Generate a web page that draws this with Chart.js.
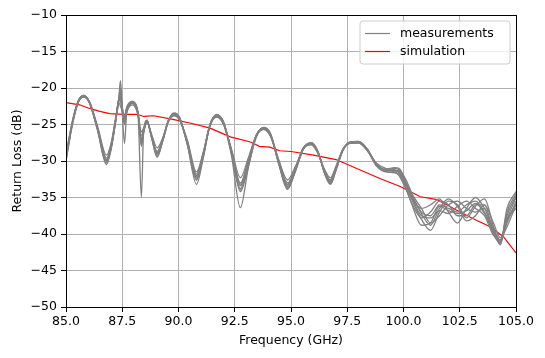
<!DOCTYPE html>
<html>
<head>
<meta charset="utf-8">
<script src="https://cdn.jsdelivr.net/npm/chart.js@4/dist/chart.umd.min.js"></script>
<style>
html,body{margin:0;padding:0;background:#fff;}
#wrap{width:545px;height:358px;position:relative;}
</style>
</head>
<body>
<div id="wrap"><canvas id="c" width="545" height="358"></canvas></div>
<script>
// ---- data ----
const freqGHz = [85.0,85.3,85.55,85.8,86.05,86.4,86.8,87.0,87.2,87.35,87.42,87.5,87.6,87.7,87.95,88.2,88.35,88.45,88.6,88.8,89.05,89.3,89.55,89.8,90.05,90.4,90.8,91.1,91.4,91.7,92.0,92.35,92.75,93.1,93.45,93.8,94.1,94.45,94.85,95.2,95.55,95.9,96.2,96.5,96.75,97.0,97.3,97.6,98.0,98.4,98.8,99.2,99.6,99.8,100.1,100.4,100.8,101.2,101.6,102.0,102.4,102.8,103.2,103.6,104.0,104.3,104.6,105.0];

const meas1 = [-29.5,-24.5,-21.8,-21.1,-22.0,-25.5,-29.8,-28.0,-24.5,-21.5,-21.0,-23.0,-24.5,-23.0,-22.0,-23.5,-26.0,-25.5,-24.5,-26.5,-28.7,-27.0,-24.5,-23.6,-24.2,-27.5,-32.0,-29.0,-25.0,-23.8,-24.8,-28.5,-33.0,-30.0,-26.5,-25.5,-26.5,-30.0,-33.2,-31.0,-28.2,-27.6,-28.8,-31.5,-32.8,-31.0,-28.5,-27.5,-27.4,-28.5,-30.5,-31.3,-31.3,-31.5,-33.0,-35.0,-37.0,-37.5,-36.0,-36.5,-37.0,-36.0,-35.5,-37.0,-39.5,-41.0,-38.0,-35.0];
const meas2 = [-30.0,-24.8,-21.9,-21.2,-22.1,-25.8,-30.5,-28.5,-24.8,-21.8,-20.5,-22.8,-23.8,-22.6,-21.8,-23.4,-27.5,-26.0,-24.6,-26.8,-29.2,-27.3,-24.6,-23.5,-24.1,-27.8,-32.6,-29.3,-25.1,-23.7,-24.6,-28.8,-33.8,-30.5,-26.6,-25.4,-26.3,-30.3,-33.8,-31.4,-28.3,-27.5,-28.7,-31.8,-33.2,-31.3,-28.6,-27.4,-27.3,-28.4,-30.6,-31.2,-31.0,-31.2,-32.5,-34.6,-36.5,-38.5,-37.5,-36.0,-35.5,-36.5,-37.0,-36.5,-40.0,-41.3,-37.0,-34.5];
const meas3 = [-29.0,-24.3,-21.7,-21.0,-21.9,-25.2,-29.2,-27.6,-24.2,-22.0,-22.5,-23.2,-24.8,-23.3,-22.3,-23.7,-26.5,-25.8,-24.8,-26.3,-28.2,-26.8,-24.6,-23.8,-24.4,-27.2,-31.5,-28.8,-25.2,-24.0,-25.0,-28.3,-32.3,-29.6,-26.5,-25.7,-26.7,-29.8,-32.6,-30.7,-28.3,-27.8,-29.0,-31.2,-32.3,-30.7,-28.4,-27.6,-27.5,-28.6,-30.3,-31.0,-31.5,-32.0,-33.8,-36.0,-37.8,-37.0,-35.5,-36.0,-37.5,-37.5,-36.0,-36.0,-38.5,-40.5,-39.0,-36.0];
const meas4 = [-29.8,-24.6,-21.8,-21.1,-22.0,-25.6,-30.0,-28.2,-24.6,-21.2,-19.0,-22.5,-24.0,-22.8,-21.9,-23.6,-35.0,-26.0,-24.4,-26.6,-29.0,-27.1,-24.5,-23.4,-24.0,-27.9,-33.2,-29.6,-25.0,-23.6,-24.9,-29.2,-36.4,-31.0,-26.8,-25.6,-26.6,-30.4,-33.9,-31.2,-28.4,-27.6,-28.9,-31.7,-33.0,-31.1,-28.6,-27.5,-27.4,-28.6,-30.7,-31.5,-31.6,-31.4,-33.2,-35.5,-38.0,-39.5,-37.0,-35.5,-36.0,-37.8,-36.2,-35.2,-39.0,-41.5,-37.5,-34.8];
const meas5 = [-29.3,-24.4,-21.7,-21.0,-22.0,-25.4,-29.6,-27.9,-24.4,-21.6,-21.5,-23.5,-27.6,-23.4,-22.1,-23.5,-27.0,-25.6,-24.6,-26.6,-28.8,-27.0,-24.4,-23.6,-24.3,-27.4,-31.8,-28.9,-25.0,-23.9,-24.9,-28.6,-33.2,-30.1,-26.6,-25.6,-26.6,-29.9,-33.0,-30.9,-28.2,-27.7,-28.9,-31.4,-32.6,-30.9,-28.5,-27.6,-27.5,-28.6,-30.4,-31.4,-31.6,-31.8,-33.5,-35.3,-36.5,-36.0,-35.2,-37.0,-38.5,-36.5,-35.0,-36.5,-39.2,-40.8,-38.5,-35.5];
const meas6 = [-29.6,-24.6,-21.9,-21.2,-22.1,-25.6,-30.2,-28.3,-24.7,-21.4,-20.0,-22.7,-24.2,-22.9,-22.0,-23.4,-28.0,-26.2,-24.5,-26.7,-29.4,-27.2,-24.5,-23.5,-24.2,-27.7,-32.3,-29.2,-25.1,-23.8,-24.7,-28.7,-34.2,-30.6,-26.5,-25.5,-26.4,-30.1,-33.5,-31.2,-28.2,-27.6,-28.8,-31.6,-32.9,-31.1,-28.5,-27.5,-27.4,-28.4,-30.5,-31.1,-30.9,-31.0,-32.8,-34.8,-37.2,-38.8,-36.5,-35.2,-36.2,-38.2,-37.5,-36.0,-39.8,-41.2,-36.5,-34.2];
const meas7 = [-29.4,-24.5,-21.8,-21.1,-22.0,-25.5,-29.9,-28.1,-24.5,-21.7,-21.8,-23.1,-25.0,-23.2,-22.1,-23.6,-27.2,-25.7,-24.7,-26.6,-28.9,-27.0,-24.6,-23.7,-24.3,-27.6,-32.2,-29.1,-25.0,-23.9,-24.9,-28.5,-33.4,-30.2,-26.6,-25.6,-26.5,-30.0,-33.3,-31.0,-28.3,-27.7,-28.8,-31.5,-32.7,-31.0,-28.5,-27.6,-27.5,-28.5,-30.4,-31.3,-31.4,-31.3,-33.0,-35.2,-37.5,-37.8,-36.8,-37.2,-36.2,-35.5,-36.5,-37.5,-40.2,-40.8,-38.0,-36.5];
const meas8 = [-29.7,-24.7,-21.9,-21.2,-22.1,-25.7,-30.3,-28.3,-24.6,-21.5,-21.2,-22.9,-24.3,-22.8,-21.9,-23.3,-27.8,-25.9,-24.4,-26.7,-29.5,-27.2,-24.5,-23.5,-24.1,-27.7,-32.5,-29.4,-25.1,-23.7,-24.7,-28.8,-34.0,-30.7,-26.6,-25.4,-26.4,-30.2,-33.6,-31.3,-28.3,-27.5,-28.7,-31.7,-33.1,-31.2,-28.6,-27.4,-27.3,-28.4,-30.6,-31.2,-31.2,-31.6,-33.6,-36.2,-38.8,-38.5,-36.2,-36.8,-37.2,-36.8,-35.8,-37.2,-39.8,-41.0,-38.3,-35.8];

const simFreqGHz = [85.0,85.6,86.05,86.5,86.95,87.55,88.15,88.45,88.9,89.75,90.65,91.4,92.3,93.2,93.6,94.05,94.5,95.0,96.0,97.0,98.05,98.95,99.85,100.75,101.5,102.35,103.1,103.85,104.45,105.0];
const simDB      = [-22.0,-22.3,-22.8,-23.2,-23.5,-23.6,-23.6,-23.9,-23.8,-24.3,-24.9,-25.5,-26.7,-27.4,-28.0,-28.1,-28.6,-28.7,-29.2,-29.8,-31.2,-32.4,-33.5,-34.9,-35.3,-36.7,-37.9,-39.0,-40.4,-42.6];

const xTicks = [85.0,87.5,90.0,92.5,95.0,97.5,100.0,102.5,105.0];
const yTicks = [-50,-45,-40,-35,-30,-25,-20,-15,-10];
const seriesLabels = ['measurements','simulation'];

// ---- chart ----
const FONT = '"DejaVu Sans", "Liberation Sans", sans-serif';
const measSets = [meas1,meas2,meas3,meas4,meas5,meas6,meas7,meas8];
const datasets = measSets.map((arr,i)=>({
  label: i===0 ? seriesLabels[0] : seriesLabels[0]+' '+(i+1),
  data: freqGHz.map((f,k)=>({x:f,y:arr[k]})),
  borderColor:'#808080', borderWidth:1.3, pointRadius:0,
  cubicInterpolationMode:'monotone', fill:false
}));
datasets.push({
  label: seriesLabels[1],
  data: simFreqGHz.map((f,k)=>({x:f,y:simDB[k]})),
  borderColor:'#ff0000', borderWidth:1.2, pointRadius:0, tension:0, fill:false
});

const frameAndLegend = {
  id:'frameAndLegend',
  afterDraw(chart){
    const ctx = chart.ctx, a = chart.chartArea;
    ctx.save();
    ctx.strokeStyle = '#000'; ctx.lineWidth = 1;
    ctx.strokeRect(Math.round(a.left)+0.5, Math.round(a.top)+0.5, Math.round(a.right-a.left), Math.round(a.bottom-a.top));
    // legend
    const bx = a.right - 156, by = a.top + 6, bw = 150, bh = 43, r = 3;
    ctx.fillStyle = 'rgba(255,255,255,0.8)';
    ctx.strokeStyle = '#cccccc';
    ctx.beginPath();
    ctx.moveTo(bx+r,by); ctx.lineTo(bx+bw-r,by); ctx.quadraticCurveTo(bx+bw,by,bx+bw,by+r);
    ctx.lineTo(bx+bw,by+bh-r); ctx.quadraticCurveTo(bx+bw,by+bh,bx+bw-r,by+bh);
    ctx.lineTo(bx+r,by+bh); ctx.quadraticCurveTo(bx,by+bh,bx,by+bh-r);
    ctx.lineTo(bx,by+r); ctx.quadraticCurveTo(bx,by,bx+r,by); ctx.closePath();
    ctx.fill(); ctx.stroke();
    const items = [{c:'#808080',t:seriesLabels[0]},{c:'#ff0000',t:seriesLabels[1]}];
    ctx.font = '12.5px '+FONT; ctx.textBaseline='middle'; ctx.fillStyle='#000';
    items.forEach((it,i)=>{
      const yy = by + 12 + i*18;
      ctx.strokeStyle = it.c; ctx.lineWidth = 1.2;
      ctx.beginPath(); ctx.moveTo(bx+5,yy+0.5); ctx.lineTo(bx+30,yy+0.5); ctx.stroke();
      ctx.fillStyle='#000'; ctx.fillText(it.t, bx+40, yy+1);
    });
    ctx.restore();
  }
};

new Chart(document.getElementById('c'), {
  type:'line',
  data:{datasets},
  options:{
    responsive:false, animation:false,
    layout:{padding:{left:10,right:29,top:15,bottom:10}},
    plugins:{legend:{display:false}, tooltip:{enabled:false}},
    scales:{
      x:{
        type:'linear', min:85, max:105,
        afterBuildTicks(s){ s.ticks = xTicks.map(v=>({value:v})); },
        afterFit(s){ s.height = 358-307-10; },
        grid:{color:'#b0b0b0', lineWidth:1, tickColor:'#000', tickLength:5, drawOnChartArea:true},
        border:{display:false},
        ticks:{color:'#000', font:{family:FONT,size:12.5}, padding:2, maxRotation:0,
          callback:(v)=>Number(v).toFixed(1)},
        title:{display:true, text:'Frequency (GHz)', color:'#000', font:{family:FONT,size:12.5}, padding:{top:2,bottom:0}}
      },
      y:{
        type:'linear', min:-50, max:-10,
        afterBuildTicks(s){ s.ticks = yTicks.map(v=>({value:v})); },
        afterFit(s){ s.width = 56; },
        grid:{color:'#b0b0b0', lineWidth:1, tickColor:'#000', tickLength:5},
        border:{display:false},
        ticks:{color:'#000', font:{family:FONT,size:12.5}, padding:4,
          callback:(v)=> (v<0?'\u2212':'')+Math.abs(v)},
        title:{display:true, text:'Return Loss (dB)', color:'#000', font:{family:FONT,size:12.5}, padding:{top:0,bottom:0}}
      }
    }
  },
  plugins:[frameAndLegend]
});
</script>
</body>
</html>
